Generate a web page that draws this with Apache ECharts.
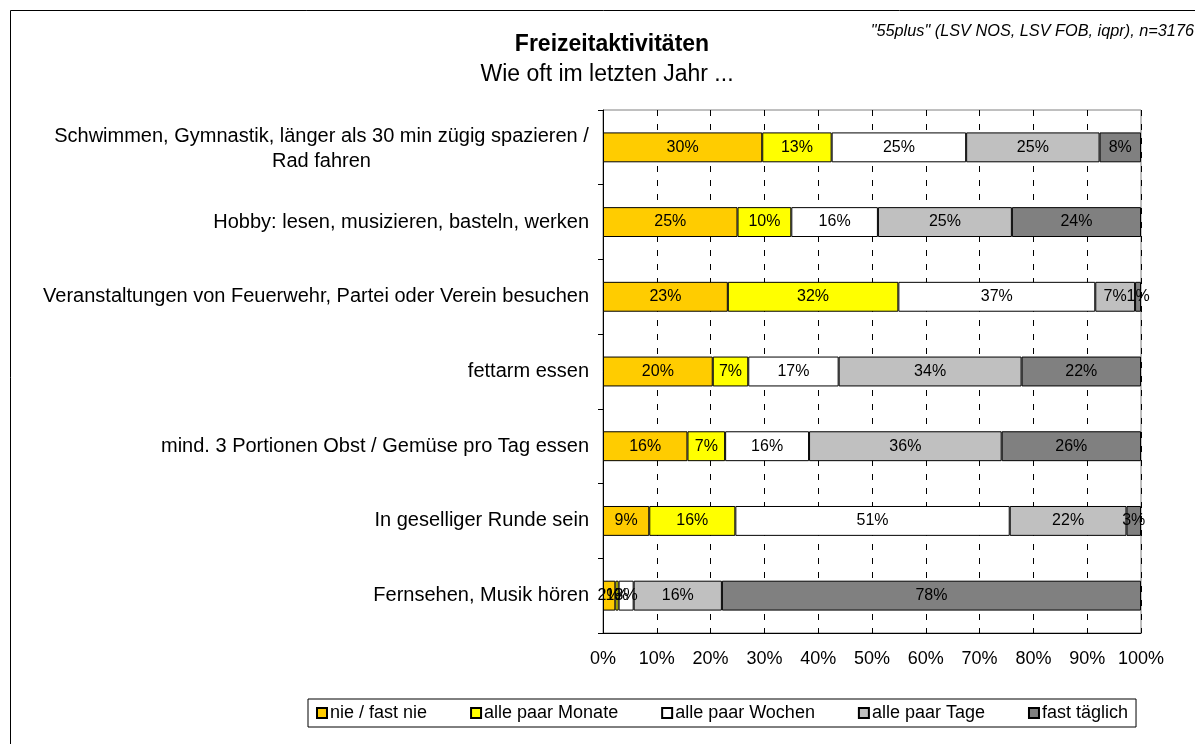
<!DOCTYPE html>
<html>
<head>
<meta charset="utf-8">
<script src="https://cdn.jsdelivr.net/npm/echarts@6/dist/echarts.min.js"></script>
<style>
  html, body { margin: 0; padding: 0; background: #fff; }
  #chart { width: 1195px; height: 744px; }
</style>
</head>
<body>
<div id="chart"></div>
<script>
// Freizeitaktivitäten der Befragten 55+, Anteile in Prozent je Aktivität
const categories = [
  'Schwimmen, Gymnastik, länger als 30 min zügig spazieren /\nRad fahren',
  'Hobby: lesen, musizieren, basteln, werken',
  'Veranstaltungen von Feuerwehr, Partei oder Verein besuchen',
  'fettarm essen',
  'mind. 3 Portionen Obst / Gemüse pro Tag essen',
  'In geselliger Runde sein',
  'Fernsehen, Musik hören'
];
const seriesNames = ['nie / fast nie', 'alle paar Monate', 'alle paar Wochen', 'alle paar Tage', 'fast täglich'];
const nieFastNie     = [29.6, 25.0, 23.2, 20.4, 15.7,  8.6,  2.3];
const allePaarMonate = [12.9, 10.0, 31.7,  6.6,  7.0, 16.0,  0.6];
const allePaarWochen = [25.0, 16.1, 36.6, 16.8, 15.6, 51.0,  2.8];
const allePaarTage   = [24.8, 24.9,  7.4, 34.0, 35.8, 21.7, 16.4];
const fastTaeglich   = [ 7.7, 24.0,  1.1, 22.2, 25.9,  2.7, 77.9];

const seriesValues = [nieFastNie, allePaarMonate, allePaarWochen, allePaarTage, fastTaeglich];
const colors = ['#FFCC00', '#FFFF00', '#FFFFFF', '#C0C0C0', '#808080'];

const FONT = '"Liberation Sans", Arial, Helvetica, sans-serif';
const LABEL_SIZE = 20;

// width of the longest line of the two-line category, so both lines can be centred
function textWidth(str, size) {
  const ctx = document.createElement('canvas').getContext('2d');
  ctx.font = size + 'px ' + FONT;
  return Math.ceil(ctx.measureText(str).width);
}
const firstLines = categories.filter(c => c.includes('\n'))[0].split('\n');
const blockWidth = Math.max.apply(null, firstLines.map(l => textWidth(l, LABEL_SIZE)));

const chart = echarts.init(document.getElementById('chart'), null, { renderer: 'canvas' });

const option = {
  backgroundColor: '#fff',
  animation: false,
  textStyle: { fontFamily: FONT, color: '#000' },
  graphic: [
    {
      type: 'rect', silent: true, z: -10,
      shape: { x: 10.5, y: 10.5, width: 1200, height: 800 },
      style: { fill: 'none', stroke: '#000', lineWidth: 1 }
    },
    {
      type: 'text', silent: true,
      style: { text: 'Freizeitaktivitäten', font: 'bold 23px ' + FONT, fill: '#000', textAlign: 'center', textVerticalAlign: 'middle', x: 612, y: 45 }
    },
    {
      type: 'text', silent: true,
      style: { text: 'Wie oft im letzten Jahr ...', font: '23px ' + FONT, fill: '#000', textAlign: 'center', textVerticalAlign: 'middle', x: 607, y: 75 }
    },
    {
      type: 'text', silent: true,
      style: { text: '"55plus" (LSV NOS, LSV FOB, iqpr), n=3176', font: 'italic 16.3px ' + FONT, fill: '#000', textAlign: 'right', textVerticalAlign: 'middle', x: 1194, y: 31 }
    }
  ],
  grid: {
    left: 603, right: 54, top: 110, bottom: 111,
    show: true, borderColor: '#808080', borderWidth: 1, backgroundColor: 'transparent'
  },
  legend: {
    data: seriesNames,
    left: 308, top: 699,
    icon: 'rect', itemWidth: 10, itemHeight: 10, itemGap: 43,
    padding: [5, 8, 5, 8],
    borderColor: '#000', borderWidth: 1,
    textStyle: { fontSize: 18, fontFamily: FONT, color: '#000', padding: [0, 0, 0, -2] }
  },
  xAxis: {
    type: 'value', min: 0, max: 100, interval: 10,
    axisLine: { show: true, lineStyle: { color: '#000', width: 1 } },
    axisTick: { show: true, inside: true, length: 5, lineStyle: { color: '#000' } },
    axisLabel: { formatter: '{value}%', fontSize: 18, color: '#000', margin: 17, fontFamily: FONT },
    splitLine: { show: true, lineStyle: { color: '#000', width: 1, type: [6, 8] } }
  },
  yAxis: {
    type: 'category', data: categories, inverse: true,
    axisLine: { show: true, lineStyle: { color: '#000', width: 1 } },
    axisTick: { show: true, length: 5, lineStyle: { color: '#000' } },
    axisLabel: {
      fontSize: LABEL_SIZE, color: '#000', margin: 14, fontFamily: FONT,
      formatter: function (v) {
        if (v.indexOf('\n') < 0) return v;
        return v.split('\n').map(l => '{c|' + l + '}').join('\n');
      },
      rich: { c: { width: blockWidth, align: 'center', fontSize: LABEL_SIZE, lineHeight: 25, fontFamily: FONT, color: '#000', padding: [4, 0, 0, 0] } }
    },
    splitLine: { show: false }
  },
  series: seriesNames.map((name, i) => ({
    name: name,
    type: 'bar',
    stack: 'gesamt',
    barWidth: '40%',
    data: seriesValues[i],
    itemStyle: { color: colors[i], borderColor: '#000', borderWidth: 1 },
    label: {
      show: true, position: 'inside', color: '#000', fontSize: 16, fontFamily: FONT,
      formatter: p => Math.round(p.value) + '%'
    },
    emphasis: { disabled: true }
  }))
};

chart.setOption(option);
</script>
</body>
</html>
